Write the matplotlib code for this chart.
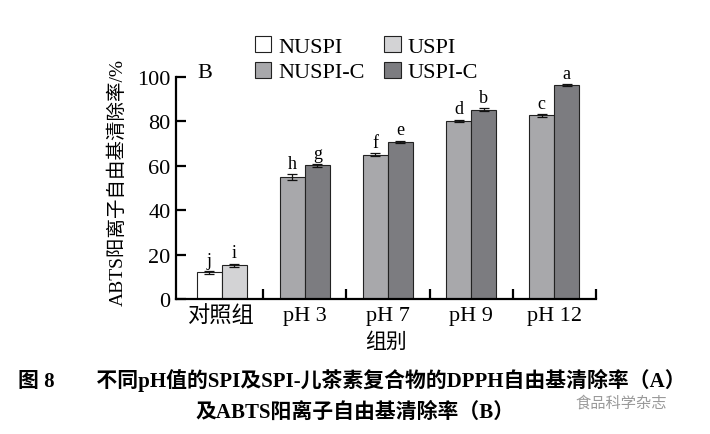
import matplotlib
matplotlib.use("Agg")
import matplotlib.pyplot as plt
import numpy as np

plt.rcParams['font.family'] = ['Liberation Serif', 'Noto Sans CJK SC']

# data
groups = ['对照组', 'pH 3', 'pH 7', 'pH 9', 'pH 12']
series = ['NUSPI', 'USPI', 'NUSPI-C', 'USPI-C']
colors = ['#ffffff', '#d3d3d5', '#a8a8ab', '#7c7c80']

# group index, value, sd, letter for each series
nuspi_x = [0]
nuspi_v = [12.0]
nuspi_e = [0.5]
nuspi_l = ['j']

uspi_x = [0]
uspi_v = [15.3]
uspi_e = [0.7]
uspi_l = ['i']

nuspic_x = [1, 2, 3, 4]
nuspic_v = [54.8, 65.0, 80.3, 82.7]
nuspic_e = [1.4, 0.8, 0.5, 0.7]
nuspic_l = ['h', 'f', 'd', 'c']

uspic_x = [1, 2, 3, 4]
uspic_v = [60.2, 70.8, 85.3, 96.3]
uspic_e = [0.6, 0.5, 0.6, 0.6]
uspic_l = ['g', 'e', 'b', 'a']

fig = plt.figure(figsize=(7.1, 4.35), dpi=100)
ax = fig.add_axes([0.248, 0.310, 0.591, 0.511])

w = 0.30
sets = [(nuspi_x, nuspi_v, nuspi_e, nuspi_l, -w/2),
        (uspi_x, uspi_v, uspi_e, uspi_l, w/2),
        (nuspic_x, nuspic_v, nuspic_e, nuspic_l, -w/2),
        (uspic_x, uspic_v, uspic_e, uspic_l, w/2)]
handles = []
for (xs, vs, es, ls, off), name, c in zip(sets, series, colors):
    xp = np.array(xs) + off
    b = ax.bar(xp, vs, width=w, color=c, edgecolor='#222222', linewidth=0.8,
               yerr=es, capsize=3.5, error_kw=dict(elinewidth=0.9, capthick=0.9, ecolor='#111111'),
               label=name)
    handles.append(b)
    for x, v, e, l in zip(xp, vs, es, ls):
        ax.text(x, v + e + 1.0, l, ha='center', va='bottom', fontsize=13, clip_on=False)

ax.set_xlim(-0.55, 4.5)
ax.set_ylim(0, 100)
ax.set_yticks([0, 20, 40, 60, 80, 100])
ax.set_xticks([0.5, 1.5, 2.5, 3.5, 4.5])
ax.set_xticklabels([])
ax.set_xticks(range(len(groups)), minor=True)
ax.set_xticklabels(groups, minor=True)
ax.tick_params(axis='both', which='major', direction='in', length=7, width=1.6, labelsize=16)
ax.tick_params(axis='x', which='minor', length=0, labelsize=16, pad=5)
ax.tick_params(axis='y', pad=4)
for s in ['top', 'right']:
    ax.spines[s].set_visible(False)
for s in ['left', 'bottom']:
    ax.spines[s].set_linewidth(1.6)

ax.set_ylabel('ABTS阳离子自由基清除率/%', fontsize=14, labelpad=4)
ax.yaxis.set_label_coords(-0.118, 0.53)
ax.set_xlabel('组别', fontsize=15, labelpad=4)
ax.text(0.05, 1.02, 'B', transform=ax.transAxes, fontsize=16, va='center', ha='left')

# legend is filled column by column, so order gives rows NUSPI/USPI, NUSPI-C/USPI-C
order = [0, 2, 1, 3]
fig.legend(handles=[handles[i] for i in order], labels=[series[i] for i in order],
           ncol=2, loc='upper left',
           bbox_to_anchor=(0.343, 0.94), frameon=False, fontsize=16,
           handlelength=0.75, handleheight=0.75, handletextpad=0.3,
           columnspacing=0.9, labelspacing=0.2, borderpad=0)

fig.text(0.495, 0.125, '图 8　　不同pH值的SPI及SPI-儿茶素复合物的DPPH自由基清除率（A）',
         ha='center', va='center', fontsize=15, fontweight='bold')
fig.text(0.5, 0.05, '及ABTS阳离子自由基清除率（B）',
         ha='center', va='center', fontsize=15, fontweight='bold')
fig.text(0.875, 0.072, '食品科学杂志', ha='center', va='center', fontsize=11,
         color='#9a9a9a')

fig.savefig('out.png', dpi=100)
